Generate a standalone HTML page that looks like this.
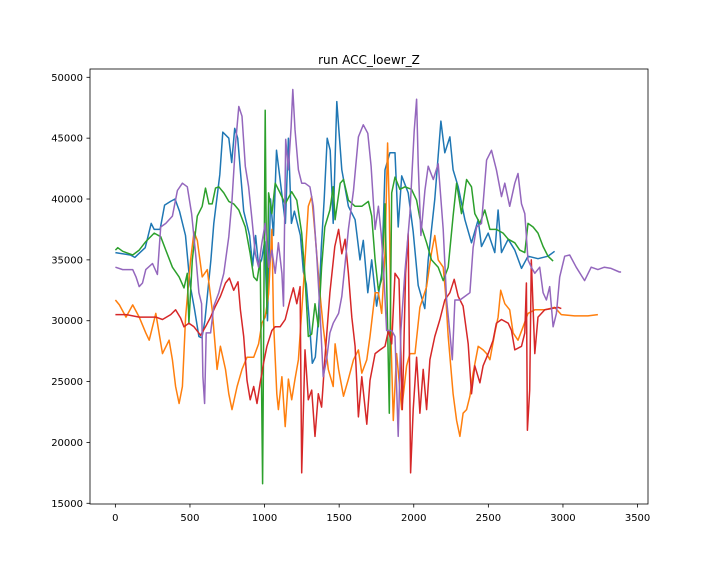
<!DOCTYPE html>
<html><head><meta charset="utf-8"><style>
body{margin:0;background:#fff;}
svg{display:block;font-family:"DejaVu Sans","Liberation Sans",sans-serif;}
</style></head><body>
<svg id="chart" width="720" height="576">
<rect width="720" height="576" fill="#fff"/>
<text x="369" y="64" text-anchor="middle" font-size="12">run ACC_loewr_Z</text>
<g id="plot"></g>
<g id="axes"></g>
</svg>
<script>
const xTicks=[0,500,1000,1500,2000,2500,3000,3500];
const yTicks=[15000,20000,25000,30000,35000,40000,45000,50000];
const seriesColors=["#1f77b4","#ff7f0e","#2ca02c","#d62728","#9467bd"];
const blueX=[0,100,130,200,240,260,300,330,370,400,430,470,500,530,560,580,600,640,660,700,720,760,780,800,820,840,860,900,920,940,960,980,1000,1020,1040,1060,1080,1100,1140,1160,1180,1200,1240,1260,1280,1300,1320,1340,1360,1380,1400,1420,1440,1460,1484,1518,1562,1607,1640,1662,1692,1718,1751,1785,1807,1840,1874,1896,1919,1963,1996,2030,2074,2097,2141,2182,2208,2242,2264,2298,2343,2387,2432,2454,2499,2543,2565,2588,2633,2677,2722,2766,2833,2900,2944];
const blueY=[35600,35400,35200,36000,38000,37500,37500,39500,39800,40000,39000,37000,33000,31000,28700,28600,30000,35000,38000,42000,45500,45000,43000,45800,45000,42000,39000,37000,34500,37000,34500,35000,36500,30000,40000,37000,44000,42000,38000,45000,38000,39000,37000,34000,33000,30000,26500,27000,30000,36000,40000,45000,44000,38000,48000,42400,39400,38300,35000,36600,32300,35000,31200,33900,42400,43800,43800,37700,41900,40500,37300,32900,31000,35000,40000,46400,43800,45100,42400,41000,38300,36400,38300,36100,37200,35600,39100,35600,36700,35800,34300,35300,35100,35300,35700];
const orangeX=[0,27,71,116,160,204,227,271,316,360,382,404,427,449,471,504,527,549,582,616,649,682,704,738,760,782,816,849,882,927,960,982,1004,1027,1049,1060,1082,1093,1116,1138,1160,1182,1204,1227,1260,1293,1316,1338,1371,1393,1427,1460,1473,1496,1529,1562,1596,1629,1652,1685,1707,1741,1763,1785,1807,1825,1836,1848,1863,1885,1919,1952,1974,2008,2041,2086,2119,2141,2164,2197,2213,2231,2264,2287,2309,2331,2354,2376,2398,2432,2465,2488,2510,2543,2565,2583,2610,2643,2666,2699,2733,2766,2811,2878,2944,2989,3078,3167,3234];
const orangeY=[31700,31300,30300,31300,30300,29000,28400,30600,27300,28400,26800,24600,23200,24600,30300,35000,37300,36600,33600,34200,30900,26000,27900,26000,24000,22700,24600,26000,27000,27000,28100,29800,30300,32200,37500,30000,24000,22700,25400,21300,25200,23500,25200,26800,32800,39400,40200,37200,32300,29500,26000,24600,28100,26000,23800,25200,26800,27600,25700,26800,28700,32300,32300,30600,35600,44600,39100,28100,21800,27300,22700,26300,27300,27300,31100,32800,35600,37000,35000,34400,32300,28700,24000,21800,20500,22400,22700,23800,25700,27900,27600,27300,26800,29000,30300,32500,31400,30900,29000,28400,29500,30600,30900,30900,31100,30500,30400,30400,30500];
const greenX=[0,16,49,116,160,204,260,304,338,382,427,460,482,493,516,549,582,604,627,649,671,693,727,760,793,827,871,904,927,949,971,987,1004,1016,1027,1049,1071,1104,1138,1182,1216,1249,1271,1293,1316,1338,1360,1382,1404,1438,1460,1473,1507,1529,1562,1607,1652,1696,1718,1741,1763,1785,1807,1825,1836,1852,1874,1907,1941,1985,2019,2052,2086,2119,2164,2197,2231,2264,2287,2320,2354,2387,2409,2443,2476,2510,2554,2599,2633,2677,2710,2744,2766,2800,2833,2867,2900,2934];
const greenY=[35800,36000,35700,35400,35800,36500,37200,36900,35800,34400,33600,32700,33900,29800,35000,38600,39400,40900,39600,39600,40900,41000,40500,39800,39600,39100,37700,35500,33600,33300,35000,16600,47300,30600,40500,38800,41300,40500,39600,40600,39900,37200,33600,28700,28900,31400,29500,34400,37700,39100,41000,38300,41300,41600,39900,39400,39400,39800,38600,35000,32500,33400,39600,29500,22400,40500,41800,40800,41000,40800,39900,37700,36400,35000,34400,33300,34400,38600,41300,38800,41600,41000,38800,38000,39100,37500,37500,37200,36700,36400,35800,35600,38000,37700,37200,36100,35300,34900];
const redX=[0,71,160,271,316,371,404,438,460,493,527,571,604,638,671,704,738,764,793,822,838,860,882,904,927,949,971,993,1016,1049,1071,1104,1138,1171,1193,1216,1238,1249,1271,1293,1316,1338,1360,1382,1404,1438,1471,1496,1518,1540,1562,1585,1607,1629,1652,1685,1707,1741,1774,1807,1830,1852,1874,1901,1923,1945,1963,1979,1996,2019,2041,2063,2086,2108,2141,2175,2208,2242,2271,2298,2331,2365,2387,2409,2443,2465,2499,2532,2554,2588,2633,2655,2677,2722,2744,2755,2762,2777,2788,2811,2833,2878,2922,2967,2989];
const redY=[30500,30500,30300,30300,30100,30500,30900,30200,29500,29800,29500,28800,29500,30300,31200,32000,33100,33500,32500,33200,30900,28700,25100,23500,24600,23200,24900,26500,27900,29200,29500,29500,30100,31700,32700,31400,32800,17500,27600,23500,24300,20500,24000,22900,26800,32300,36100,37500,35500,36700,33900,30300,27900,22100,25400,21500,25100,27300,27600,27900,29200,28100,33900,33400,22700,33900,37200,17500,22700,27000,22400,26000,22700,26800,28700,30100,31700,32300,33400,32000,31200,28100,24000,26300,24900,26300,27300,28400,29800,30100,29800,29200,27600,27900,29000,33100,21000,24300,35000,27300,30300,30900,31000,31100,31000];
const purpleX=[0,49,116,138,160,182,204,249,282,304,338,382,416,449,482,511,538,560,578,587,598,609,638,660,693,727,760,782,804,827,849,871,893,916,938,960,982,1004,1027,1049,1071,1093,1116,1127,1142,1160,1178,1189,1204,1227,1249,1271,1304,1327,1349,1371,1393,1416,1438,1460,1496,1518,1540,1562,1596,1629,1662,1692,1714,1741,1763,1781,1796,1818,1852,1874,1896,1914,1941,1974,2003,2019,2030,2048,2075,2097,2131,2164,2197,2220,2242,2258,2276,2309,2343,2376,2398,2421,2454,2488,2521,2554,2588,2610,2643,2677,2699,2722,2744,2766,2788,2811,2844,2867,2889,2911,2934,2956,2978,3012,3045,3089,3145,3189,3234,3278,3323,3378,3390];
const purpleY=[34400,34200,34200,33600,32800,33100,34200,34700,33800,37700,38000,38600,40700,41300,41000,38800,35500,32300,31400,25400,23200,29000,29000,31200,32300,33900,36900,39900,44300,47600,46800,42700,41000,38300,35500,34400,36400,38000,34400,35800,33900,36400,33900,31200,44900,42400,45900,49000,45700,42400,41300,41300,41000,39400,35500,30900,25400,26800,29000,29800,30600,32000,34700,37500,40700,45100,46100,45400,42700,37500,39400,37200,34700,29200,29200,28700,20500,29200,34100,38800,45600,48200,42900,37000,40700,42700,41600,42900,37500,31700,29000,26800,31700,31700,32000,32300,36000,37700,38000,43200,44000,42400,40200,41300,39400,41300,42100,39600,38800,35000,34400,33900,34400,32300,31700,32800,29500,30600,33600,35300,35400,34400,33300,34400,34200,34400,34300,34000,34000];

const L=90,R=648,T=69,B=504;
const xMin=-170,xMax=3570,yMin=14942,yMax=50682;
function sx(v){return L+(v-xMin)/(xMax-xMin)*(R-L);}
function sy(v){return B-(v-yMin)/(yMax-yMin)*(B-T);}
const NS="http://www.w3.org/2000/svg";
const plot=document.getElementById('plot');
const axes=document.getElementById('axes');
const allSeries=[[blueX,blueY,"series-blue"],[orangeX,orangeY,"series-orange"],[greenX,greenY,"series-green"],[redX,redY,"series-red"],[purpleX,purpleY,"series-purple"]];
allSeries.forEach(function(s,i){
  const xs=s[0],ys=s[1];
  let d="";
  for(let k=0;k<xs.length;k++){
    d+=(k===0?"M":"L")+sx(xs[k]).toFixed(1)+","+sy(ys[k]).toFixed(1);
  }
  const p=document.createElementNS(NS,'path');
  p.setAttribute('d',d);
  p.setAttribute('fill','none');
  p.setAttribute('stroke',seriesColors[i]);
  p.setAttribute('stroke-width','1.5');
  p.setAttribute('stroke-linejoin','round');
  
  
  plot.appendChild(p);
});
const frame=document.createElementNS(NS,'rect');
frame.setAttribute('x',L);frame.setAttribute('y',T);frame.setAttribute('width',R-L);frame.setAttribute('height',B-T);
frame.setAttribute('fill','none');frame.setAttribute('stroke','#000');frame.setAttribute('stroke-width','0.8');


axes.appendChild(frame);
xTicks.forEach(function(t){
  const x=sx(t);
  const ln=document.createElementNS(NS,'line');
  ln.setAttribute('x1',x);ln.setAttribute('x2',x);ln.setAttribute('y1',B);ln.setAttribute('y2',B+3.5);
  ln.setAttribute('stroke','#000');ln.setAttribute('stroke-width','0.8');
  
  
  axes.appendChild(ln);
  const tx=document.createElementNS(NS,'text');
  tx.setAttribute('x',x);tx.setAttribute('y',B+17);tx.setAttribute('text-anchor','middle');tx.setAttribute('font-size','10');
  tx.textContent=t;
  
  
  axes.appendChild(tx);
});
yTicks.forEach(function(t){
  const y=sy(t);
  const ln=document.createElementNS(NS,'line');
  ln.setAttribute('x1',L-3.5);ln.setAttribute('x2',L);ln.setAttribute('y1',y);ln.setAttribute('y2',y);
  ln.setAttribute('stroke','#000');ln.setAttribute('stroke-width','0.8');
  
  
  axes.appendChild(ln);
  const tx=document.createElementNS(NS,'text');
  tx.setAttribute('x',L-7);tx.setAttribute('y',y+3.5);tx.setAttribute('text-anchor','end');tx.setAttribute('font-size','10');
  tx.textContent=t;
  
  
  axes.appendChild(tx);
});
</script>
</body></html>
